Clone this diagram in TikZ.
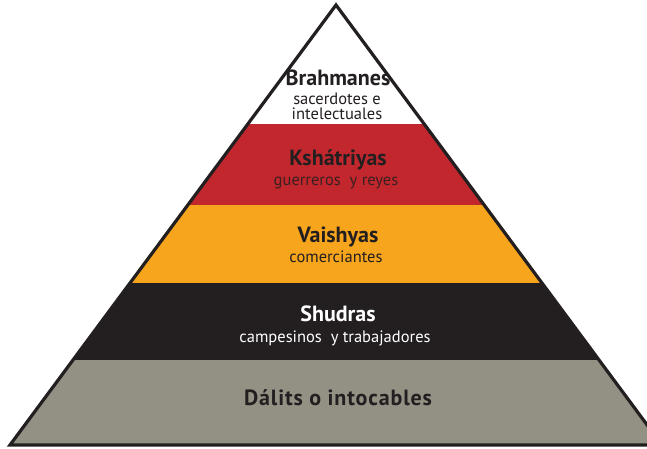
\documentclass[tikz,border=0pt]{standalone}
\usepackage{fontspec}
\setmainfont{PT Sans}
\begin{document}
\begin{tikzpicture}[x=1pt,y=-1pt,
  title/.style={font=\bfseries\fontsize{22}{24}\selectfont, anchor=base, inner sep=0pt},
  sub/.style={font=\fontsize{16.5}{18}\selectfont, anchor=base, inner sep=0pt}]
\definecolor{cred}{HTML}{C1272D}
\definecolor{corange}{HTML}{F7A51C}
\definecolor{cblack}{HTML}{231F20}
\definecolor{cgray}{HTML}{939084}
\definecolor{ctext}{HTML}{231F20}
\useasboundingbox (0,0) rectangle (647,448);
\coordinate (apex) at (336,5);
\coordinate (bl) at (10,445);
\coordinate (br) at (662,445);
\begin{scope}
  \clip (apex) -- (bl) -- (br) -- cycle;
  \fill[white] (0,0) rectangle (700,124);
  \fill[cred] (0,124) rectangle (700,205);
  \fill[corange] (0,205) rectangle (700,283);
  \fill[cblack] (0,283) rectangle (700,360);
  \fill[cgray] (0,360) rectangle (700,450);
\end{scope}
\draw[cblack, line width=3.2pt, line join=miter] (apex) -- (bl) -- (br) -- cycle;
% labels
\node[title, text=ctext] (brah) at (338,85) {Brahmanes};
\node[sub, text=ctext] (brahs1) at (337,104.5) {sacerdotes e};
\node[sub, text=ctext] (brahs2) at (337,119.5) {intelectuales};
\node[title, text=ctext] (ksh) at (338,165) {Kshátriyas};
\node[sub, text=ctext!85!cred] (kshs) at (336,185) {guerreros\ \ y reyes};
\node[title, text=ctext] (vai) at (338,242) {Vaishyas};
\node[sub, text=ctext] (vais) at (336,262) {comerciantes};
\node[title, text=white] (shu) at (338,321) {Shudras};
\node[sub, text=white] (shus) at (335,342) {campesinos\ \ y trabajadores};
\node[title, text=ctext, font=\bfseries\fontsize{22}{24}\selectfont\addfontfeature{LetterSpace=4}] (dal) at (338,405) {Dálits o intocables};
\end{tikzpicture}
\end{document}
